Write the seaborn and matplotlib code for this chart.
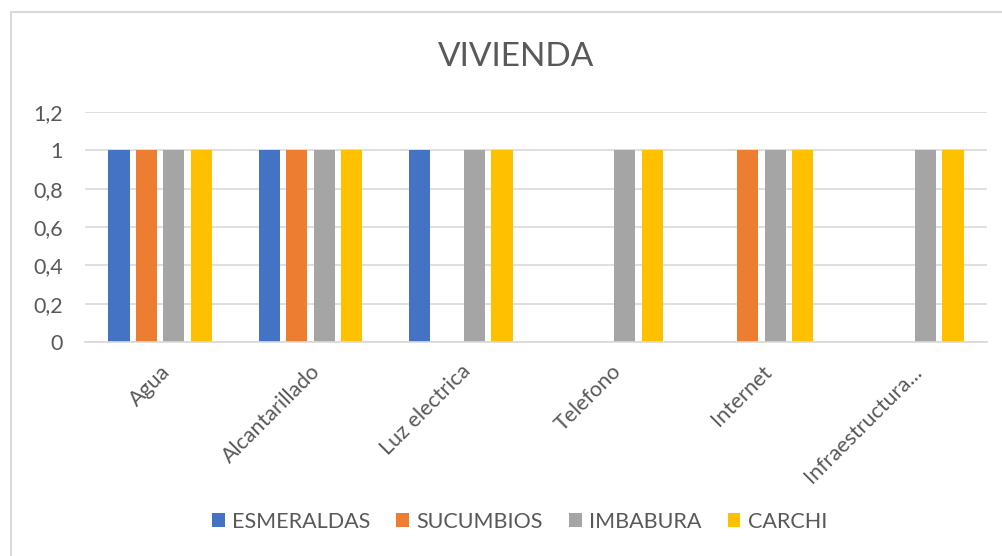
import numpy as np
import pandas as pd
import matplotlib.pyplot as plt
import seaborn as sb
from matplotlib.patches import Rectangle

# Data
categories = ['Agua', 'Alcantarillado', 'Luz electrica', 'Telefono', 'Internet', 'Infraestructura...']
provinces = ['ESMERALDAS', 'SUCUMBIOS', 'IMBABURA', 'CARCHI']
esmeraldas = [1, 1, 1, 0, 0, 0]
sucumbios = [1, 1, 0, 0, 1, 0]
imbabura = [1, 1, 1, 1, 1, 1]
carchi = [1, 1, 1, 1, 1, 1]
yticks = [0, 0.2, 0.4, 0.6, 0.8, 1, 1.2]
ytick_labels = ['0', '0,2', '0,4', '0,6', '0,8', '1', '1,2']

colors = ['#4472C4', '#ED7D31', '#A5A5A5', '#FFC000']
text_gray = '#595959'
grid_gray = '#D9D9D9'

# Long format for seaborn
df = pd.DataFrame({
    'categoria': categories * 4,
    'provincia': np.repeat(provinces, len(categories)),
    'valor': esmeraldas + sucumbios + imbabura + carchi,
})

sb.set_style('white')
plt.rcParams['font.family'] = ['Lato', 'DejaVu Sans']

fig = plt.figure(figsize=(10.03, 5.56), dpi=100)
ax = fig.add_axes([0.0847, 0.385, 0.8993, 0.4137])

sb.barplot(data=df, x='categoria', y='valor', hue='provincia', order=categories,
           hue_order=provinces, palette=colors, width=0.73, gap=0.23,
           saturation=1, ax=ax, legend=True, edgecolor='none')

ax.set_ylim(0, 1.2)
ax.set_xlim(-0.5, len(categories) - 0.5)
ax.set_yticks(yticks)
ax.set_yticklabels(ytick_labels)
ax.yaxis.grid(True, color=grid_gray, linewidth=1.2)
ax.set_axisbelow(True)
ax.set_xlabel('')
ax.set_ylabel('')
for s in ['top', 'right', 'left']:
    ax.spines[s].set_visible(False)
ax.spines['bottom'].set_color(grid_gray)
ax.spines['bottom'].set_linewidth(1.2)
ax.tick_params(axis='both', length=0, labelsize=15.5, colors=text_gray)
ax.tick_params(axis='y', pad=16)
ax.tick_params(axis='x', pad=14)
plt.setp(ax.get_xticklabels(), rotation=45, ha='right', rotation_mode='anchor')

fig.text(0.515, 0.897, 'VIVIENDA', ha='center', va='center', fontsize=24, color=text_gray)

handles, labels = ax.get_legend_handles_labels()
ax.legend_.remove()
fig.legend(handles, labels, loc='center', bbox_to_anchor=(0.518, 0.062), ncol=4,
           frameon=False, fontsize=15.5, labelcolor=text_gray, handlelength=0.6,
           handleheight=0.6, handletextpad=0.35, columnspacing=1.2)

# chart border like the spreadsheet frame
fig.patches.append(Rectangle((11 / 1003, -0.01), 1.0, 1 - 12 / 556 + 0.01,
                             transform=fig.transFigure, fill=False,
                             edgecolor='#D9D9D9', linewidth=1.5))

fig.savefig('out.png', dpi=100)
